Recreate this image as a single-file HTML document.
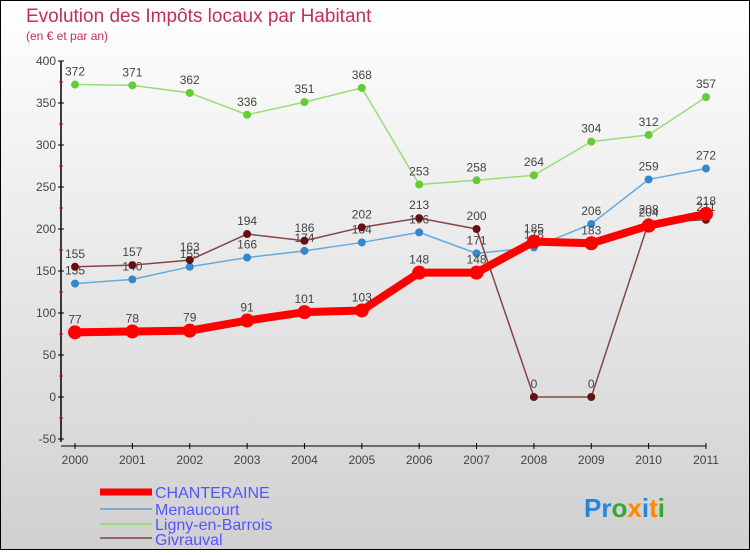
<!DOCTYPE html>
<html><head><meta charset="utf-8"><style>
html,body{margin:0;padding:0}
body{width:750px;height:550px;overflow:hidden;font-family:"Liberation Sans",sans-serif}
</style></head><body>
<svg width="750" height="550" xmlns="http://www.w3.org/2000/svg">
<defs>
<linearGradient id="bg" x1="0" y1="0" x2="0" y2="1">
<stop offset="0" stop-color="#ffffff"/><stop offset="1" stop-color="#d0d0d0"/>
</linearGradient>
</defs>
<rect x="0.5" y="0.5" width="749" height="549" fill="url(#bg)" stroke="#000"/>
<text x="26" y="22" font-size="19" fill="#c0305a">Evolution des Impôts locaux par Habitant</text>
<text x="26" y="40" font-size="12" fill="#c0305a">(en € et par an)</text>
<g id="axes"></g>
<g id="series"></g>
<g font-size="16" fill="#5555ff">
<line x1="100" y1="492" x2="152" y2="492" stroke="#ff0000" stroke-width="7"/>
<text x="155" y="498">CHANTERAINE</text>
<line x1="100" y1="509" x2="152" y2="509" stroke="#7aaed0" stroke-width="2"/>
<text x="155" y="515">Menaucourt</text>
<line x1="100" y1="524" x2="152" y2="524" stroke="#99dd77" stroke-width="2"/>
<text x="155" y="530">Ligny-en-Barrois</text>
<line x1="100" y1="538" x2="152" y2="538" stroke="#996666" stroke-width="2"/>
<text x="155" y="545">Givrauval</text>
</g>
<text x="584" y="517" font-size="26" font-weight="bold"><tspan fill="#2288dd">Pr</tspan><tspan fill="#33aa33">o</tspan><tspan fill="#ff8800">x</tspan><tspan fill="#2288dd">i</tspan><tspan fill="#ff8800">t</tspan><tspan fill="#33aa33">i</tspan></text>
</svg>
<script>
const years=[2000,2001,2002,2003,2004,2005,2006,2007,2008,2009,2010,2011];
const yTicks=[-50,0,50,100,150,200,250,300,350,400];
const chanteraine=[77,78,79,91,101,103,148,148,185,183,204,218];
const menaucourt=[135,140,155,166,174,184,196,171,178,206,259,272];
const ligny=[372,371,362,336,351,368,253,258,264,304,312,357];
const givrauval=[155,157,163,194,186,202,213,200,0,0,208,211];
const NS="http://www.w3.org/2000/svg";
const X=i=>75+i*(706-75)/11;
const Y=v=>397-v*0.84;
function mk(tag,attrs,parent){const e=document.createElementNS(NS,tag);for(const k in attrs)e.setAttribute(k,attrs[k]);parent.appendChild(e);return e;}
const axes=document.getElementById('axes');
mk('line',{x1:61,y1:Y(400),x2:61,y2:Y(-50)+3,stroke:'#000','stroke-width':1.5},axes);
mk('line',{x1:61,y1:446,x2:706,y2:446,stroke:'#000','stroke-width':1},axes);
yTicks.forEach(v=>{
 mk('line',{x1:58,y1:Y(v),x2:64,y2:Y(v),stroke:'#000'},axes);
 const t=mk('text',{x:56,y:Y(v)+4,'font-size':12,'text-anchor':'end',fill:'#444'},axes);
 
 
 t.textContent=v;
 if(v<400){mk('line',{x1:59,y1:Y(v+25),x2:63,y2:Y(v+25),stroke:'#e00'},axes);}
});
years.forEach((y,i)=>{
 mk('line',{x1:X(i),y1:443,x2:X(i),y2:449,stroke:'#000'},axes);
 const t=mk('text',{x:X(i),y:464,'font-size':12,'text-anchor':'middle',fill:'#444'},axes);
 
 
 t.textContent=y;
});
const sg=document.getElementById('series');
function draw(name,data,color,dot,w,r){
 const g=mk('g',{},sg);
 
 
 const pts=data.map((v,i)=>X(i)+','+Y(v)).join(' ');
 mk('polyline',{points:pts,fill:'none',stroke:color,'stroke-width':w,'stroke-linejoin':'round'},g);
 data.forEach((v,i)=>{
  const c=mk('circle',{cx:X(i),cy:Y(v),r:r,fill:dot},g);
  
  
  const t=mk('text',{x:X(i),y:Y(v)-9,'font-size':12,'text-anchor':'middle',fill:'#444'},g);
  
  
  t.textContent=v;
 });
}
draw('ligny',ligny,'#99dd77','#66cc33',1.5,4);
draw('menaucourt',menaucourt,'#66aadd','#3388cc',1.5,4);
draw('givrauval',givrauval,'#884444','#661111',1.5,4);
draw('chanteraine',chanteraine,'#ff0000','#ff0000',8,7);
</script>
</body></html>
